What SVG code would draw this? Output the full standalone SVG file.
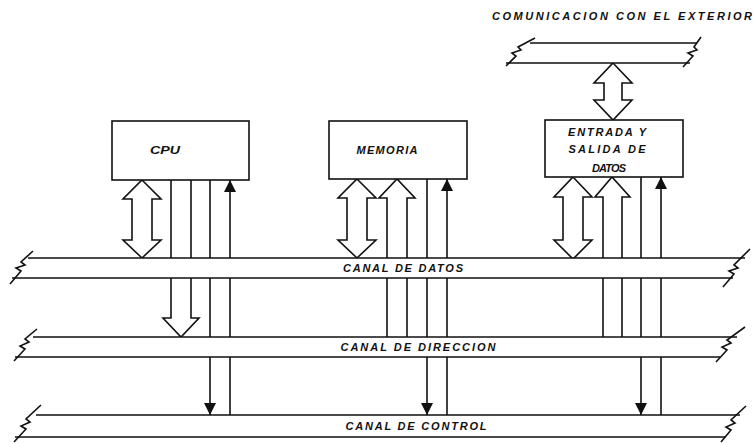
<svg xmlns="http://www.w3.org/2000/svg" width="754" height="443" viewBox="0 0 754 443">
<style>
.ln{fill:none;stroke:#111;stroke-width:1.6;stroke-linejoin:miter}
.box{fill:#fff;stroke:#111;stroke-width:1.6}
.bus{fill:#fff;stroke:none}
.hol{fill:#fff;stroke:#111;stroke-width:1.6;stroke-linejoin:miter}
.t{font-family:"Liberation Sans",Arial,sans-serif;font-style:italic;font-weight:bold;font-size:11px;fill:#111}
</style>
<defs>
<marker id="ah" viewBox="0 0 12 12" refX="12" refY="6" markerWidth="12" markerHeight="12" markerUnits="userSpaceOnUse" orient="auto">
<path d="M0,0 L12,6 L0,12 Z" fill="#111"/>
</marker>
</defs>
<rect width="754" height="443" fill="#fff"/>

<g id="connectors">
<!-- CPU -->
<polygon class="hol" points="142,180 161,199 152,199 152,240 161,240 142,258 123,240 132,240 132,199 123,199"/>
<path class="hol" d="M171,180 L171,318 L163,318 L181,337 L199,318 L191,318 L191,180"/>
<line class="ln" x1="210" y1="180" x2="210" y2="415" marker-end="url(#ah)"/>
<line class="ln" x1="230" y1="415" x2="230" y2="180" marker-end="url(#ah)"/>
<!-- MEMORIA -->
<polygon class="hol" points="357,179 376,198 367,198 367,240 376,240 357,258 338,240 347,240 347,198 338,198"/>
<path class="hol" d="M387,337 L387,198 L379,198 L397,179 L415,198 L407,198 L407,337"/>
<line class="ln" x1="427" y1="179" x2="427" y2="415" marker-end="url(#ah)"/>
<line class="ln" x1="447" y1="415" x2="447" y2="179" marker-end="url(#ah)"/>
<!-- E/S -->
<polygon class="hol" points="613,63 632,83 622,83 622,100 632,100 613,120 594,100 604,100 604,83 594,83"/>
<polygon class="hol" points="573,177 592,197 583,197 583,240 592,240 573,259 554,240 563,240 563,197 554,197"/>
<path class="hol" d="M603,337 L603,197 L595,197 L612,177 L630,197 L622,197 L622,337"/>
<line class="ln" x1="641" y1="177" x2="641" y2="415" marker-end="url(#ah)"/>
<line class="ln" x1="661" y1="415" x2="661" y2="177" marker-end="url(#ah)"/>
</g>

<g id="canal-datos">
<rect class="bus" x="20" y="258" width="720" height="20"/>
<path class="ln" d="M28,258 L745,258 M12,278 L733,278"/>
<path class="ln" d="M10,284 L21,271 L16,268 L25,265 L21,262 L33,251"/>
<path class="ln" d="M723,287 L734,274 L729,271 L738,268 L734,265 L750,249"/>
<text class="t" x="403" y="272" text-anchor="middle" textLength="120" lengthAdjust="spacing">CANAL DE DATOS</text>
</g>

<g id="canal-direccion">
<rect class="bus" x="25" y="337" width="710" height="20"/>
<path class="ln" d="M33,337 L737,337 M15,357 L720,357"/>
<path class="ln" d="M14,361 L25,349 L20,346 L29,342 L25,339 L37,329"/>
<path class="ln" d="M716,362 L727,350 L722,347 L731,343 L727,340 L745,327"/>
<text class="t" x="418" y="351" text-anchor="middle" textLength="155" lengthAdjust="spacing">CANAL DE DIRECCION</text>
</g>

<g id="canal-control">
<rect class="bus" x="25" y="415" width="710" height="22"/>
<path class="ln" d="M36,415 L740,415 M15,437 L725,437"/>
<path class="ln" d="M14,442 L26,429 L21,426 L30,422 L26,419 L41,405"/>
<path class="ln" d="M721,442 L731,430 L726,427 L735,423 L731,420 L746,406"/>
<text class="t" x="416" y="430" text-anchor="middle" textLength="141" lengthAdjust="spacing">CANAL DE CONTROL</text>
</g>

<g id="canal-exterior">
<rect class="bus" x="515" y="43" width="180" height="20"/>
<path class="ln" d="M530,43 L697,43 M506,63 L690,63"/>
<path class="ln" d="M506,66 L516,56 L512,53 L521,50 L518,47 L535,38"/>
<path class="ln" d="M683,67 L693,56 L688,53 L697,50 L694,47 L701,37"/>
<text class="t" x="492" y="20" textLength="260" lengthAdjust="spacing">COMUNICACION CON EL EXTERIOR</text>
</g>

<g id="cpu">
<rect class="box" x="112" y="121" width="137" height="59"/>
<text class="t" x="165" y="154" text-anchor="middle" textLength="30" lengthAdjust="spacingAndGlyphs">CPU</text>
</g>

<g id="memoria">
<rect class="box" x="329" y="121" width="138" height="58"/>
<text class="t" x="387" y="154" text-anchor="middle" textLength="61" lengthAdjust="spacing">MEMORIA</text>
</g>

<g id="entrada-salida">
<rect class="box" x="545" y="120" width="138" height="57"/>
<text class="t" x="607" y="136" text-anchor="middle" textLength="78" lengthAdjust="spacing">ENTRADA Y</text>
<text class="t" x="607" y="153" text-anchor="middle" textLength="77" lengthAdjust="spacing">SALIDA DE</text>
<text class="t" x="609" y="172" text-anchor="middle" textLength="34" lengthAdjust="spacing">DATOS</text>
</g>
</svg>
